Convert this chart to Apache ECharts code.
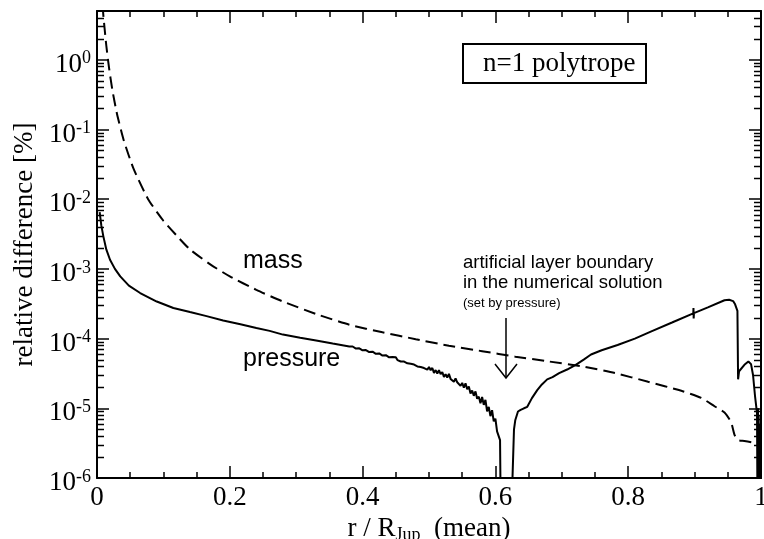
<!DOCTYPE html>
<html>
<head>
<meta charset="utf-8">
<script src="https://cdn.jsdelivr.net/npm/echarts@6/dist/echarts.min.js"></script>
<style>
  html, body { margin: 0; padding: 0; background: #fff; }
  #chart { width: 764px; height: 539px; }
</style>
</head>
<body>
<div id="chart"></div>
<script>
// Relative difference [%] of the enclosed mass (dashed) versus r / R_Jup
const massCurve = [
  [0.006, 20], [0.008, 7.0], [0.0095, 4.4], [0.011, 3.1], [0.014, 1.6], [0.018, 0.78],
  [0.023, 0.375], [0.03, 0.169], [0.04, 0.0713], [0.055, 0.0274], [0.077, 0.01],
  [0.1, 4.9e-3], [0.12, 3.0e-3], [0.14, 1.9e-3], [0.17, 1.17e-3], [0.2, 7.8e-4],
  [0.24, 5.0e-4], [0.28, 3.4e-4], [0.33, 2.25e-4], [0.38, 1.58e-4], [0.43, 1.23e-4],
  [0.48, 9.8e-5], [0.53, 7.9e-5], [0.58, 6.6e-5], [0.63, 5.5e-5], [0.68, 4.7e-5],
  [0.73, 4.0e-5], [0.78, 3.2e-5], [0.83, 2.4e-5], [0.88, 1.78e-5], [0.91, 1.41e-5],
  [0.93, 1.07e-5], [0.945, 8.7e-6], [0.955, 6.3e-6], [0.96, 4.2e-6], [0.965, 3.5e-6],
  [0.975, 3.4e-6], [0.99, 3.2e-6], [1.0, 3.0e-6]
];

// Pressure difference: smooth inner part
const pressureInner = [
  [0.004, 6.5e-3], [0.0065, 4.2e-3], [0.0095, 2.95e-3], [0.014, 1.9e-3], [0.0196, 1.35e-3],
  [0.027, 1.0e-3], [0.035, 7.8e-4], [0.048, 5.75e-4], [0.065, 4.5e-4], [0.09, 3.4e-4],
  [0.115, 2.75e-4], [0.14, 2.4e-4], [0.165, 2.1e-4], [0.19, 1.82e-4], [0.216, 1.6e-4],
  [0.24, 1.42e-4], [0.26, 1.29e-4], [0.28, 1.14e-4], [0.306, 1.03e-4], [0.33, 9.4e-5],
  [0.355, 8.5e-5], [0.38, 7.7e-5]
];

// Pressure difference: noisy stretch down to the layer boundary
const pressureNoisy = [
  [0.385, 7.70e-5], [0.39, 7.18e-5], [0.395, 7.25e-5], [0.40, 6.78e-5], [0.405, 6.85e-5],
  [0.41, 6.40e-5], [0.415, 6.48e-5], [0.42, 6.05e-5], [0.425, 6.12e-5], [0.43, 5.70e-5],
  [0.435, 5.78e-5], [0.44, 5.38e-5], [0.445, 5.45e-5],
  [0.4500, 5.39e-5], [0.4525, 4.91e-5], [0.4550, 5.08e-5], [0.4575, 4.69e-5], [0.4600, 5.01e-5],
  [0.4625, 4.68e-5], [0.4650, 4.88e-5], [0.4675, 4.41e-5], [0.4700, 4.63e-5], [0.4725, 4.34e-5],
  [0.4750, 4.60e-5], [0.4775, 4.24e-5], [0.4800, 4.39e-5], [0.4825, 3.99e-5], [0.4850, 4.17e-5],
  [0.4875, 3.91e-5], [0.4900, 4.17e-5], [0.4925, 3.78e-5], [0.4950, 3.89e-5], [0.4975, 3.58e-5],
  [0.5000, 3.92e-5], [0.5025, 3.52e-5], [0.5050, 3.79e-5], [0.5075, 3.22e-5], [0.5100, 3.53e-5],
  [0.5125, 3.16e-5], [0.5150, 3.52e-5], [0.5175, 3.09e-5], [0.5200, 3.31e-5], [0.5225, 2.82e-5],
  [0.5250, 3.07e-5], [0.5275, 2.76e-5], [0.5300, 3.12e-5], [0.5325, 2.64e-5], [0.5350, 2.78e-5],
  [0.5375, 2.40e-5], [0.5400, 2.68e-5], [0.5425, 2.36e-5], [0.5450, 2.52e-5], [0.5475, 2.10e-5],
  [0.5500, 2.31e-5], [0.5525, 1.97e-5], [0.5550, 2.28e-5], [0.5575, 1.87e-5], [0.5600, 2.06e-5],
  [0.5625, 1.63e-5], [0.5650, 1.80e-5], [0.5675, 1.51e-5], [0.5700, 1.75e-5], [0.5725, 1.37e-5],
  [0.5750, 1.47e-5], [0.5775, 1.18e-5], [0.5800, 1.45e-5], [0.5825, 1.12e-5], [0.5850, 1.32e-5],
  [0.5875, 9.0e-6], [0.5900, 1.05e-5], [0.5925, 7.7e-6], [0.5950, 9.4e-6], [0.5975, 6.5e-6],
  [0.6000, 7.1e-6], [0.6025, 4.66e-6], [0.6050, 4.76e-6], [0.607, 3.5e-6], [0.6085, 1e-7]
];

// Pressure difference: outer part, rising again after the boundary
const pressureOuter = [
  [0.6225, 1e-7], [0.628, 5.0e-6], [0.630, 6.8e-6], [0.634, 9.0e-6], [0.638, 9.5e-6],
  [0.643, 1.0e-5], [0.648, 1.05e-5], [0.655, 1.4e-5], [0.663, 1.82e-5], [0.670, 2.2e-5],
  [0.678, 2.6e-5], [0.686, 2.8e-5], [0.696, 3.2e-5], [0.708, 3.6e-5], [0.721, 4.2e-5],
  [0.733, 5.0e-5], [0.744, 5.9e-5], [0.76, 6.8e-5], [0.784, 8.1e-5], [0.81, 1.0e-4],
  [0.834, 1.26e-4], [0.866, 1.7e-4], [0.898, 2.3e-4], [0.8983, 2.75e-4], [0.8986, 1.95e-4],
  [0.899, 2.32e-4], [0.92, 2.8e-4], [0.945, 3.55e-4], [0.952, 3.6e-4], [0.958, 3.45e-4],
  [0.961, 3.1e-4], [0.9645, 2.5e-4], [0.9655, 2.6e-5], [0.967, 3.4e-5], [0.975, 4.2e-5],
  [0.981, 4.7e-5], [0.985, 4.3e-5], [0.988, 3.0e-5], [0.991, 1.5e-5], [0.994, 8.5e-6],
  [0.995, 1e-7], [0.9955, 1.0e-5], [0.996, 1e-7], [0.9965, 8e-6], [0.997, 1e-7],
  [0.9975, 6e-6], [0.998, 1e-7], [0.9985, 5e-6], [0.999, 1e-7], [0.9995, 4.5e-6],
  [1.0, 1e-7]
];

const xMin = 0, xMax = 1, xStep = 0.2;
const yMin = 1e-6, yMax = 5;
const logMinorMultipliers = [2, 3, 4, 5, 6, 7, 8, 9];

const SERIF = '"Liberation Serif", "Times New Roman", serif';
const SANS = '"Liberation Sans", Arial, sans-serif';

const pressureCurve = pressureInner.concat(pressureNoisy, pressureOuter);

function xLabel(v) {
  if (Math.abs(v) < 1e-9) return '0';
  if (Math.abs(v - 1) < 1e-9) return '1';
  return v.toFixed(1);
}
function yLabel(v) {
  const e = Math.round(Math.log10(v));
  return '{b|10}{s|' + e + '}';
}

const xAxisBase = {
  type: 'value', min: xMin, max: xMax, interval: xStep,
  axisLine: { show: true, onZero: false, lineStyle: { color: '#000', width: 2 } },
  axisTick: { show: true, inside: true, length: 12, lineStyle: { color: '#000', width: 1.5 } },
  minorTick: { show: true, splitNumber: 4, length: 6, lineStyle: { color: '#000', width: 1.5 } },
  splitLine: { show: false }
};
const yAxisBase = {
  type: 'log', logBase: 10, min: yMin, max: yMax, splitNumber: 7,
  axisLine: { show: true, onZero: false, lineStyle: { color: '#000', width: 2 } },
  axisTick: { show: true, inside: true, length: 12, lineStyle: { color: '#000', width: 1.5 } },
  splitLine: { show: false }
};

const option = {
  animation: false,
  backgroundColor: '#fff',
  grid: { left: 97, right: 3, top: 11, bottom: 61, containLabel: false, outerBoundsMode: 'none' },
  xAxis: [
    Object.assign({}, xAxisBase, {
      position: 'bottom',
      axisLabel: {
        formatter: xLabel, color: '#000', fontFamily: SERIF, fontSize: 27, margin: 6
      },
      name: '{a|r / R}{s|Jup}{a|  (mean)}',
      nameLocation: 'middle',
      nameGap: 34,
      nameTextStyle: {
        rich: {
          a: { fontFamily: SERIF, fontSize: 27, color: '#000', lineHeight: 30 },
          s: { fontFamily: SERIF, fontSize: 18, color: '#000', lineHeight: 18, verticalAlign: 'bottom' }
        }
      }
    }),
    Object.assign({}, xAxisBase, { position: 'top', axisLabel: { show: false } })
  ],
  yAxis: [
    Object.assign({}, yAxisBase, {
      position: 'left',
      axisLabel: {
        formatter: yLabel, showMaxLabel: false, margin: 6, padding: [10, 0, 0, 0],
        rich: {
          b: { fontFamily: SERIF, fontSize: 27, color: '#000', lineHeight: 30 },
          s: { fontFamily: SERIF, fontSize: 18, color: '#000', lineHeight: 14, verticalAlign: 'top' }
        }
      },
      name: 'relative difference [%]',
      nameLocation: 'middle',
      nameGap: 49,
      nameTextStyle: { fontFamily: SERIF, fontSize: 27, color: '#000' }
    }),
    Object.assign({}, yAxisBase, { position: 'right', axisLabel: { show: false } })
  ],
  series: [
    {
      name: 'mass', type: 'line', xAxisIndex: 0, yAxisIndex: 0,
      data: massCurve, showSymbol: false, smooth: 0.2, clip: true,
      lineStyle: { color: '#000', width: 2, type: [12, 6] }
    },
    {
      name: 'pressure', type: 'line', xAxisIndex: 0, yAxisIndex: 0,
      data: pressureCurve, showSymbol: false, smooth: false, clip: true,
      lineStyle: { color: '#000', width: 2 }
    }
  ]
};

const chart = echarts.init(document.getElementById('chart'), null, { renderer: 'canvas' });
chart.setOption(option);

// Logarithmic minor ticks on the left and right frame, then the annotations
const xl = chart.convertToPixel({ xAxisIndex: 0 }, xMin);
const xr = chart.convertToPixel({ xAxisIndex: 0 }, xMax);
const graphics = [];
for (let e = -6; e <= 0; e++) {
  logMinorMultipliers.forEach(function (m) {
    const v = m * Math.pow(10, e);
    if (v >= yMax) return;
    const y = Math.round(chart.convertToPixel({ yAxisIndex: 0 }, v)) + 0.5;
    graphics.push({ type: 'line', silent: true, shape: { x1: xl, y1: y, x2: xl + 7, y2: y }, style: { stroke: '#000', lineWidth: 1.5 } });
    graphics.push({ type: 'line', silent: true, shape: { x1: xr - 7, y1: y, x2: xr, y2: y }, style: { stroke: '#000', lineWidth: 1.5 } });
  });
}

// Title box
graphics.push({ type: 'rect', shape: { x: 463, y: 44, width: 183, height: 39 }, style: { fill: '#fff', stroke: '#000', lineWidth: 2 }, z: 10 });
graphics.push({ type: 'text', x: 483, y: 64, style: { text: 'n=1 polytrope', font: '27px ' + SERIF, fill: '#000', verticalAlign: 'middle' }, z: 11 });

// Curve labels
graphics.push({ type: 'text', x: 243, y: 261, style: { text: 'mass', font: '25px ' + SANS, fill: '#000', verticalAlign: 'middle' }, z: 11 });
graphics.push({ type: 'text', x: 243, y: 359, style: { text: 'pressure', font: '25px ' + SANS, fill: '#000', verticalAlign: 'middle' }, z: 11 });

// Layer-boundary note with arrow
graphics.push({ type: 'text', x: 463, y: 263, style: { text: 'artificial layer boundary', font: '18.5px ' + SANS, fill: '#000', verticalAlign: 'middle' }, z: 11 });
graphics.push({ type: 'text', x: 463, y: 283, style: { text: 'in the numerical solution', font: '18.5px ' + SANS, fill: '#000', verticalAlign: 'middle' }, z: 11 });
graphics.push({ type: 'text', x: 463, y: 303, style: { text: '(set by pressure)', font: '13px ' + SANS, fill: '#000', verticalAlign: 'middle' }, z: 11 });
graphics.push({ type: 'line', shape: { x1: 506, y1: 318, x2: 506, y2: 378 }, style: { stroke: '#000', lineWidth: 1.5 }, z: 11 });
graphics.push({ type: 'polyline', shape: { points: [[495, 364], [506, 378], [517, 364]] }, style: { stroke: '#000', lineWidth: 1.5, fill: null }, z: 11 });

chart.setOption({ graphic: graphics });
</script>
</body>
</html>
